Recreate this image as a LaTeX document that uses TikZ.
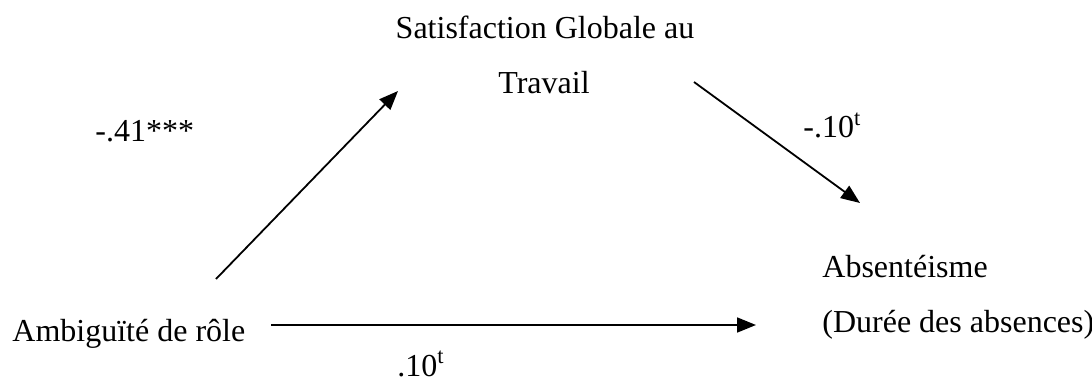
\documentclass[tikz,border=0pt]{standalone}
\usepackage{fontspec}
\setmainfont{Liberation Serif}
\usetikzlibrary{arrows.meta}
\tikzset{
  lbl/.style={inner sep=0pt, font=\fontsize{16}{19}\selectfont},
  path/.style={-{Triangle[length=9.5pt,width=7.5pt]}, line width=0.9pt},
}
\begin{document}
\begin{tikzpicture}[line join=round, x=0.5pt, y=-0.5pt]
        \useasboundingbox (0,0) rectangle (1092,385);
        % variables
        \node[lbl, anchor=base] (sat) at (545,39) {Satisfaction Globale au};
        \node[lbl, anchor=base] (trav) at (544,94) {Travail};
        \node[lbl, anchor=base west] (amb) at (12,341) {Ambiguïté de rôle};
        \node[lbl, anchor=base west] (abs) at (822,277) {Absentéisme};
        \node[lbl, anchor=base west] (dur) at (822,332) {(Durée des absences)};
        % coefficients
        \node[lbl, anchor=base west] (c41) at (95,141) {-.41***};
        \node[lbl, anchor=base west] (c10a) at (803,138) {-.10\textsuperscript{t}};
        \node[lbl, anchor=base west] (c10b) at (397,376) {.10\textsuperscript{t}};
        % arrows
        \coordinate (amb-up) at (216,279);
        \coordinate (sat-in) at (398,91);
        \coordinate (sat-out) at (694,82);
        \coordinate (abs-in) at (860,203);
        \coordinate (amb-right) at (271,325);
        \coordinate (dur-in) at (756,325);
        \draw[path] (amb-up) -- (sat-in);
        \draw[path] (sat-out) -- (abs-in);
        \draw[path] (amb-right) -- (dur-in);
    \end{tikzpicture}
\end{document}
